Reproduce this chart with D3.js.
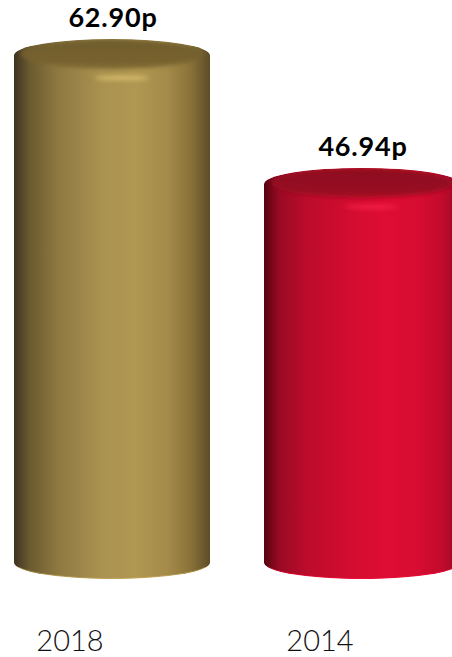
<!DOCTYPE html>
<html>
<head>
<meta charset="utf-8">
<script src="https://cdn.jsdelivr.net/npm/d3@7"></script>
<style>
  html, body { margin: 0; padding: 0; background: #ffffff; }
  svg { display: block; }
</style>
</head>
<body>
<svg id="chart" width="452" height="657"></svg>
<script>
// Price per unit, pence
const categories = ["2018", "2014"];
const values = [62.90, 46.94];
const valueLabels = ["62.90p", "46.94p"];

// Cylinder palettes: side gradient stops, top face colour, rim highlight
const palettes = [
  {
    side: ["#3f3320", "#6b5a30", "#8e7840", "#aa9250", "#b09752", "#a58b4a", "#8a7238", "#5e4c28"],
    top: "#76622f",
    highlight: "#f0d27a"
  },
  {
    side: ["#55040f", "#9a0a24", "#bc0c2c", "#d40c30", "#de0d33", "#d80c31", "#c40b2d", "#9a0822"],
    top: "#960921",
    highlight: "#ff2a52"
  }
];

const W = 452, H = 657;
const svg = d3.select("#chart");
const defs = svg.append("defs");

const x = d3.scaleBand()
  .domain(categories)
  .range([-40, 514])
  .paddingInner(0.216)
  .paddingOuter(0.216);

const y = d3.scaleLinear()
  .domain([0, 62.90])
  .range([563, 55]);

const ry = 16;
const rx = x.bandwidth() / 2;

// soft-edge filters for the cap shading
const blur = defs.append("filter").attr("id", "soft")
  .attr("x", "-20%").attr("y", "-50%").attr("width", "140%").attr("height", "200%");
blur.append("feGaussianBlur").attr("stdDeviation", 2.2);
const blur2 = defs.append("filter").attr("id", "glow")
  .attr("x", "-30%").attr("y", "-200%").attr("width", "160%").attr("height", "500%");
blur2.append("feGaussianBlur").attr("stdDeviation", 2.2);

const bodyPath = (x0, x1, yt, yb) =>
  `M${x0},${yt} L${x0},${yb} A${rx},${ry} 0 0 0 ${x1},${yb} L${x1},${yt} A${rx},${ry} 0 0 0 ${x0},${yt} Z`;

categories.forEach((c, i) => {
  const p = palettes[i];
  const g = defs.append("linearGradient").attr("id", "side" + i)
    .attr("x1", "0").attr("x2", "1").attr("y1", "0").attr("y2", "0");
  const offs = [0, 0.08, 0.22, 0.45, 0.62, 0.78, 0.9, 1];
  p.side.forEach((col, k) => g.append("stop").attr("offset", offs[k]).attr("stop-color", col));

  const tg = defs.append("linearGradient").attr("id", "top" + i)
    .attr("x1", "0").attr("x2", "0").attr("y1", "0").attr("y2", "1");
  tg.append("stop").attr("offset", 0).attr("stop-color", d3.color(p.top).darker(0.15));
  tg.append("stop").attr("offset", 0.7).attr("stop-color", p.top);
  tg.append("stop").attr("offset", 1).attr("stop-color", d3.color(p.top).brighter(0.25));

  const x0 = x(c), x1 = x(c) + x.bandwidth();
  defs.append("clipPath").attr("id", "clip" + i)
    .append("path").attr("d", bodyPath(x0, x1, y(values[i]), y(0)));
});

const bars = svg.selectAll("g.bar")
  .data(categories)
  .join("g")
  .attr("class", "bar");

bars.each(function (c, i) {
  const g = d3.select(this);
  const p = palettes[i];
  const x0 = x(c), x1 = x(c) + x.bandwidth(), cx = x(c) + rx;
  const yt = y(values[i]), yb = y(0);

  const body = g.append("g").attr("clip-path", `url(#clip${i})`);
  body.append("path")
    .attr("d", bodyPath(x0, x1, yt, yb))
    .attr("fill", `url(#side${i})`);

  // flat top face, slightly inset to leave a rounded rim
  body.append("ellipse")
    .attr("cx", cx).attr("cy", yt - 1)
    .attr("rx", rx - 7).attr("ry", ry - 1)
    .attr("fill", `url(#top${i})`)
    .attr("filter", "url(#soft)");

  // rim highlight along the front edge
  body.append("ellipse")
    .attr("cx", cx + rx * 0.1).attr("cy", yt + ry + 7)
    .attr("rx", rx * 0.28).attr("ry", 2)
    .attr("fill", p.highlight)
    .attr("opacity", 0.7)
    .attr("filter", "url(#glow)");

  // thin bright line on the bottom edge
  g.append("path")
    .attr("d", `M${x0 + 4},${yb + 4} A${rx},${ry} 0 0 0 ${x1 - 4},${yb + 4}`)
    .attr("fill", "none")
    .attr("stroke", d3.color(p.side[4]).brighter(0.6))
    .attr("stroke-width", 1)
    .attr("opacity", 0.5);
});

// value labels over each cylinder
svg.selectAll("text.value")
  .data(categories)
  .join("text")
  .attr("class", "value")
  .attr("x", (c) => x(c) + rx + 1)
  .attr("y", (c, i) => y(values[i]) - ry - 12)
  .attr("text-anchor", "middle")
  .attr("font-family", "Lato, 'Open Sans', sans-serif")
  .attr("font-weight", 700)
  .attr("font-size", 27)
  .attr("letter-spacing", 0.8)
  .attr("fill", "#000")
  .text((c, i) => valueLabels[i]);

// category labels
svg.selectAll("text.cat")
  .data(categories)
  .join("text")
  .attr("class", "cat")
  .attr("x", (c) => x(c) + rx - 42)
  .attr("y", 651)
  .attr("text-anchor", "middle")
  .attr("font-family", "Lato, 'Open Sans', sans-serif")
  .attr("font-weight", 300)
  .attr("font-size", 29)
  .attr("fill", "#111")
  .text((c) => c);
</script>
</body>
</html>
